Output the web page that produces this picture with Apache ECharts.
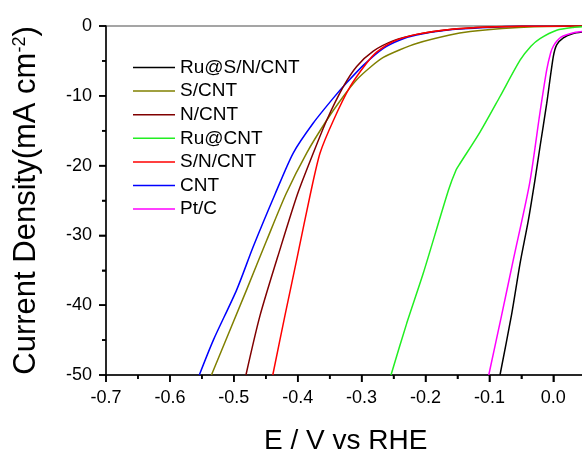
<!DOCTYPE html>
<html>
<head>
<meta charset="utf-8">
<script src="https://cdn.jsdelivr.net/npm/echarts@6/dist/echarts.min.js"></script>
<style>
  html, body { margin: 0; padding: 0; background: #fff; }
  #chart { width: 582px; height: 456px; }
</style>
</head>
<body>
<div id="chart"></div>
<script>
// polarization curves, [E (V vs RHE), j (mA cm-2)]
const ruSNCNT = [[-0.0834,-50],[-0.065,-41.2],[-0.052,-34],[-0.039,-27.8],[-0.0286,-22],[-0.0208,-17.3],[-0.0103,-11.1],[0.0,-4.4],[0.0053,-2.7],[0.0157,-1.7],[0.03,-1.1],[0.05,-0.8]]
const sCNT = [[-0.535,-50],[-0.48,-37.8],[-0.4485,-30.7],[-0.418,-24],[-0.386,-18.2],[-0.3546,-13.5],[-0.3286,-10.1],[-0.3077,-7.7],[-0.285,-5.8],[-0.266,-4.5],[-0.24,-3.4],[-0.214,-2.5],[-0.162,-1.3],[-0.13,-0.8],[-0.08,-0.35],[-0.03,-0.1],[0.05,0]]
const nCNT = [[-0.481,-50],[-0.459,-41.5],[-0.4277,-32],[-0.4,-24],[-0.3756,-18.2],[-0.3546,-13.5],[-0.3286,-8.7],[-0.3077,-5.8],[-0.2817,-3.6],[-0.25,-2.1],[-0.214,-1.2],[-0.162,-0.5],[-0.1,-0.15],[-0.05,-0.05],[0.05,0]]
const ruCNT = [[-0.254,-50],[-0.2294,-42.6],[-0.2034,-35.4],[-0.164,-23.5],[-0.152,-20.6],[-0.146,-19.7],[-0.1147,-15.2],[-0.0834,-10.1],[-0.052,-4.9],[-0.035,-2.9],[-0.0208,-1.8],[0.0053,-0.6],[0.031,-0.2],[0.05,-0.1]]
const snCNT = [[-0.439,-50],[-0.42,-41.5],[-0.4,-32.8],[-0.38,-24],[-0.365,-18.2],[-0.344,-13.5],[-0.318,-8.7],[-0.292,-5.3],[-0.276,-3.7],[-0.25,-2.2],[-0.214,-1.2],[-0.162,-0.5],[-0.1,-0.15],[-0.05,-0.05],[0.05,0]]
const cnt = [[-0.554,-50],[-0.532,-45],[-0.4955,-37.8],[-0.4695,-31.6],[-0.435,-24],[-0.407,-18.2],[-0.3756,-13.9],[-0.344,-10.3],[-0.323,-8.1],[-0.297,-5.6],[-0.266,-3.2],[-0.24,-2.0],[-0.214,-1.3],[-0.162,-0.55],[-0.1,-0.2],[-0.05,-0.05],[0.05,0]]
const ptC = [[-0.101,-50],[-0.081,-41.5],[-0.0626,-33.5],[-0.037,-22.5],[-0.021,-12.5],[-0.0103,-6.3],[-0.004,-3.8],[0.0,-2.9],[0.0053,-2.2],[0.012,-1.6],[0.021,-1.25],[0.035,-0.9],[0.05,-0.75]]

const legendNames = ['Ru@S/N/CNT', 'S/CNT', 'N/CNT', 'Ru@CNT', 'S/N/CNT', 'CNT', 'Pt/C']
const xTicks = [-0.7, -0.6, -0.5, -0.4, -0.3, -0.2, -0.1, 0.0]
const xMinorTicks = [-0.65, -0.55, -0.45, -0.35, -0.25, -0.15, -0.05]
const yTicks = [-50, -40, -30, -20, -10, 0]
const yMinorTicks = [-45, -35, -25, -15, -5]

const font = "'Liberation Sans', Arial, sans-serif"

const myChart = echarts.init(document.getElementById('chart'))

const makeSeries = (name, data, color) => {
  return {
    name: name,
    type: 'line',
    data: data,
    smooth: 0.25,
    symbol: 'none',
    color: color,
    lineStyle: { width: 1.5, color: color },
  }
}

// outward tick marks placed through the axis scales
const tickSeries = (items, vertical, len) => {
  return {
    type: 'custom',
    coordinateSystem: 'cartesian2d',
    silent: true,
    clip: false,
    z: 20,
    data: items,
    renderItem: (params, api) => {
      const p = api.coord([api.value(0), api.value(1)])
      const shape = vertical
        ? { x1: p[0], y1: p[1], x2: p[0], y2: p[1] + len }
        : { x1: p[0] - len, y1: p[1], x2: p[0], y2: p[1] }
      return { type: 'line', shape: shape, style: { stroke: '#000', lineWidth: 1.5 } }
    },
  }
}

const option = {
  // grid border only shows on top (left/bottom covered by axes, right is off-canvas)
  grid: {
    left: 106, top: 26, width: 479.25, height: 349,
    outerBoundsMode: 'none',
    show: true, borderColor: '#888', borderWidth: 1.5, backgroundColor: 'transparent',
  },
  legend: {
    orient: 'vertical',
    left: 128,
    top: 53,
    icon: 'rect',
    itemWidth: 42,
    itemHeight: 1.5,
    itemGap: 4.6,
    data: legendNames,
    textStyle: { fontSize: 19, lineHeight: 19, color: '#000', fontFamily: font },
  },
  xAxis: {
    type: 'value',
    min: -0.7,
    max: 0.05,
    interval: 0.1,
    name: 'E / V vs RHE',
    nameLocation: 'middle',
    nameGap: 52,
    nameTextStyle: { fontSize: 28, color: '#000', fontFamily: font },
    axisLine: { show: true, onZero: false, lineStyle: { color: '#000', width: 1.5 } },
    axisTick: { show: true, length: 7, lineStyle: { color: '#000', width: 1.5 } },
    minorTick: { show: true, splitNumber: 2, length: 4, lineStyle: { color: '#000', width: 1.5 } },
    splitLine: { show: false },
    axisLabel: {
      fontSize: 18,
      color: '#000',
      fontFamily: font,
      margin: 14,
      formatter: (v) => {
        const hit = xTicks.find((t) => Math.abs(t - v) < 1e-6)
        return hit === undefined ? '' : hit.toFixed(1)
      },
    },
  },
  yAxis: {
    type: 'value',
    min: -50,
    max: 0,
    interval: 10,
    name: 'Current Density(mA cm{sup|-2})',
    nameLocation: 'middle',
    nameGap: 64,
    nameTextStyle: {
      fontSize: 31,
      color: '#000',
      fontFamily: font,
      rich: {
        sup: { fontSize: 18, verticalAlign: 'top', color: '#000', fontFamily: font },
      },
    },
    axisLine: { show: true, onZero: false, lineStyle: { color: '#000', width: 1.5 } },
    axisTick: { show: true, length: 7, lineStyle: { color: '#000', width: 1.5 } },
    minorTick: { show: true, splitNumber: 2, length: 4, lineStyle: { color: '#000', width: 1.5 } },
    splitLine: { show: false },
    axisLabel: { fontSize: 18, color: '#000', fontFamily: font, margin: 14 },
  },
  series: [
    makeSeries('CNT', cnt, '#0000ff'),
    makeSeries('S/CNT', sCNT, '#808000'),
    makeSeries('N/CNT', nCNT, '#800000'),
    makeSeries('S/N/CNT', snCNT, '#ff0000'),
    makeSeries('Ru@CNT', ruCNT, '#22ee22'),
    makeSeries('Ru@S/N/CNT', ruSNCNT, '#000000'),
    makeSeries('Pt/C', ptC, '#ff00ff'),
    tickSeries(xTicks.map((v) => [v, -50]), true, 7),
    tickSeries(xMinorTicks.map((v) => [v, -50]), true, 4),
    tickSeries(yTicks.map((v) => [-0.7, v]), false, 7),
    tickSeries(yMinorTicks.map((v) => [-0.7, v]), false, 4),
  ],
}

option && myChart.setOption(option)
</script>
</body>
</html>
